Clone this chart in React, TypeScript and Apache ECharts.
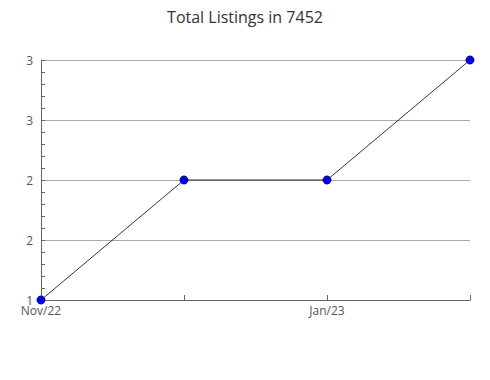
import React, { useEffect, useRef } from "react";
import * as echarts from "echarts";

const titleText = "Total Listings in 7452";
const categories = ["Nov/22", "Dec/22", "Jan/23", "Feb/23"];
const listings = [1, 2, 2, 3];
const yMin = 1;
const yMax = 3;
const yInterval = 0.5;

export default function App() {
  const ref = useRef<HTMLDivElement>(null);
  useEffect(() => {
    if (!ref.current) return;
    const chart = echarts.init(ref.current, null, { renderer: "svg" });
    const font = "'Open Sans', 'Noto Sans', sans-serif";
    chart.setOption({
      animation: false,
      title: {
        text: titleText,
        left: "center",
        top: 4,
        textStyle: { fontFamily: font, fontSize: 16, fontWeight: "normal", color: "#333" },
      },
      grid: { left: 41, right: 20, top: 60, bottom: 80, containLabel: false },
      xAxis: {
        type: "category",
        data: categories,
        boundaryGap: false,
        axisLine: { lineStyle: { color: "#666", width: 1 } },
        axisTick: { show: true, inside: true, length: 5, interval: 0, lineStyle: { color: "#666" } },
        axisLabel: { interval: 1, color: "#555", fontFamily: font, fontSize: 12, margin: 4 },
        splitLine: { show: false },
      },
      yAxis: {
        type: "value",
        min: yMin,
        max: yMax,
        interval: yInterval,
        axisLine: { show: true, lineStyle: { color: "#666", width: 1 } },
        axisTick: { show: true, inside: true, length: 4, lineStyle: { color: "#666" } },
        minorTick: { show: true, splitNumber: 5, length: 4, lineStyle: { color: "#666" } },
        axisLabel: {
          color: "#555",
          fontFamily: font,
          fontSize: 12,
          margin: 8,
          formatter: (v: number) => String(Math.round(v)),
        },
        splitLine: { show: true, lineStyle: { color: "#aaa", width: 1 } },
      },
      series: [
        {
          type: "line",
          data: listings,
          symbol: "circle",
          symbolSize: 8,
          lineStyle: { color: "#000", width: 0.8 },
          itemStyle: { color: "#0000ff", borderColor: "#000055", borderWidth: 1 },
        },
      ],
    });
    return () => chart.dispose();
  }, []);
  return <div ref={ref} style={{ width: 490, height: 380, margin: -8 }} />;
}
